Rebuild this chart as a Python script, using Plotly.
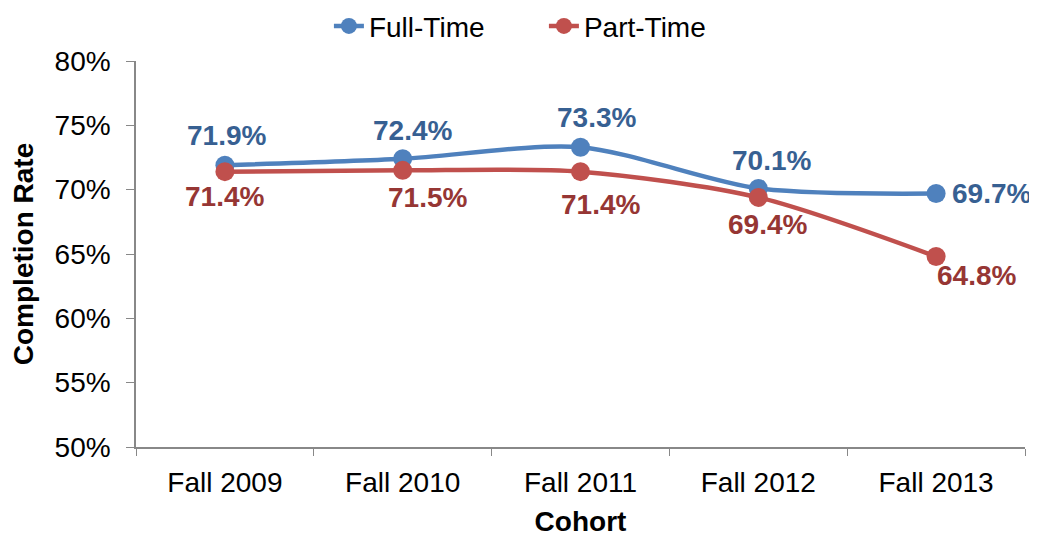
import plotly.graph_objects as go

cohorts = ["Fall 2009", "Fall 2010", "Fall 2011", "Fall 2012", "Fall 2013"]
full_time = [71.9, 72.4, 73.3, 70.1, 69.7]
part_time = [71.4, 71.5, 71.4, 69.4, 64.8]
y_ticks = [50, 55, 60, 65, 70, 75, 80]

# label offsets (pixels)
ft_shift = [(2, 30), (10, 28), (16, 30), (13, 28), (55, 0)]
pt_shift = [(0, -25), (25, -27), (20, -33), (9, -27), (40, -19)]

BLUE = "#4F81BD"
RED = "#C0504D"
BLUE_T = "#376092"
RED_T = "#963634"
FONT = "Liberation Sans, Arial, sans-serif"

fig = go.Figure()
fig.add_trace(go.Scatter(x=cohorts, y=full_time, name="Full-Time", mode="lines+markers",
                         line=dict(color=BLUE, width=4.5, shape="spline", smoothing=0.8),
                         marker=dict(size=19, color=BLUE)))
fig.add_trace(go.Scatter(x=cohorts, y=part_time, name="Part-Time", mode="lines+markers",
                         line=dict(color=RED, width=4.5, shape="spline", smoothing=0.8),
                         marker=dict(size=19, color=RED)))

for c, v, (dx, dy) in zip(cohorts, full_time, ft_shift):
    fig.add_annotation(x=c, y=v, text=f"{v:.1f}%", showarrow=False, xshift=dx, yshift=dy,
                       font=dict(family=FONT, size=28, color=BLUE_T, weight="bold"))
for c, v, (dx, dy) in zip(cohorts, part_time, pt_shift):
    fig.add_annotation(x=c, y=v, text=f"{v:.1f}%", showarrow=False, xshift=dx, yshift=dy,
                       font=dict(family=FONT, size=28, color=RED_T, weight="bold"))

fig.update_layout(
    width=1029, height=529,
    margin=dict(l=128, r=12, t=53, b=90, autoexpand=False),
    paper_bgcolor="white", plot_bgcolor="white",
    font=dict(family=FONT, size=28, color="black"),
    showlegend=True,
    legend=dict(orientation="h", x=0.217, xanchor="left", y=1.09, yanchor="middle",
                font=dict(size=28), entrywidth=170,
                traceorder="normal", bgcolor="rgba(0,0,0,0)"),
    xaxis=dict(type="category", range=[-0.5, 4.5], showline=True, linecolor="#888888",
               linewidth=1.5, ticks="outside", tickson="boundaries", ticklen=7,
               tickcolor="#888888", showgrid=False, tickfont=dict(size=28),
               automargin=False, ticklabelstandoff=10,
               title=dict(text="<b>Cohort</b>", font=dict(size=28), standoff=14)),
    yaxis=dict(range=[50, 80], tickvals=y_ticks, ticktext=[f"{t}%" for t in y_ticks],
               showline=True, linecolor="#888888", linewidth=1.5, ticks="outside",
               ticklen=8, tickcolor="#888888", showgrid=False, zeroline=False,
               tickfont=dict(size=28), automargin=False, ticklabelstandoff=10,
               title=dict(text="<b>Completion Rate</b>", font=dict(size=28), standoff=16)),
)

fig.write_html("out.html")
